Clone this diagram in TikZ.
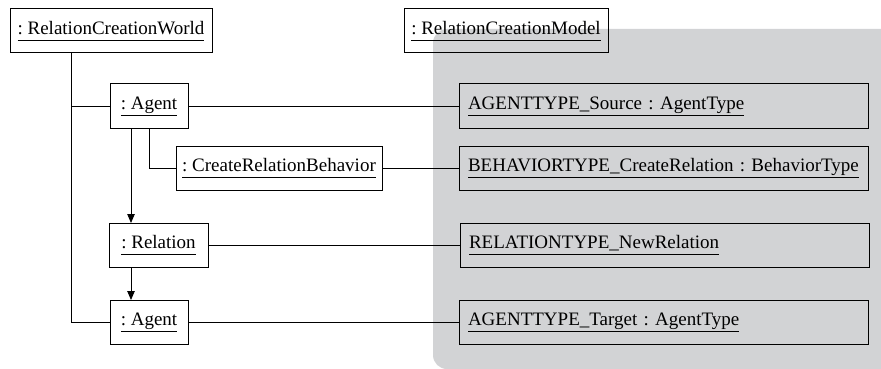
\documentclass[tikz,border=0pt]{standalone}
\usepackage{fontspec}
\setmainfont{Liberation Serif}
\usetikzlibrary{positioning,arrows.meta}

\definecolor{modelgray}{RGB}{210,211,213}
\newcommand{\objname}[1]{\underline{#1\vphantom{gy}}}
\frenchspacing

\begin{document}
\begin{tikzpicture}[%
    x=1pt,
    y=1pt,
    >={Triangle[length=9pt,width=7.5pt]},
    line width=0.8pt,
    obj/.style={%
      draw,
      line width=1pt,
      outer sep=0pt,
      minimum height=44pt,
      inner xsep=6pt,
      font=\fontsize{19}{22}\selectfont
    },
    inst/.style={%
      obj,
      text width=391pt,
      inner xsep=9pt,
      align=left
    }
  ]
    \useasboundingbox (0,0) rectangle (881,-369);
    % model background
    \fill[modelgray, rounded corners=14pt] (433,-29) rectangle (900,-369);

    \node[obj, minimum width=202pt, anchor=north west] (world) at (10,-9) {\objname{: RelationCreationWorld}};
    \node[obj, minimum width=204pt] (model) [right=192pt of world]   {\objname{: RelationCreationModel}};
    \node[obj, minimum width=78pt] (agent1) [below right=31pt and 100pt of world.south west] {\objname{: Agent}};
    \node[obj, minimum width=206pt] (crb) [below right=18pt and 66pt of agent1.south west]   {\objname{: CreateRelationBehavior}};
    \node[obj, minimum width=99pt] (rel) [below right=33pt and -1pt of agent1.south west |- crb.south] {\objname{: Relation}};
    \node[obj, minimum width=78pt] (agent2) [below right=33pt and 1pt of rel.south west]   {\objname{: Agent}};

    \node[inst] (source) [right=271pt of agent1]                  {\objname{AGENTTYPE\_Source : AgentType}};
    \node[inst] (behavior) [right=77pt of crb]                    {\objname{BEHAVIORTYPE\_CreateRelation : BehaviorType}};
    \node[inst] (reltype) [right=252pt of rel]                    {\objname{RELATIONTYPE\_NewRelation}};
    \node[inst] (target) [right=271pt of agent2]                  {\objname{AGENTTYPE\_Target : AgentType}};

    \coordinate[right=61pt of world.south west] (trunk);
    \coordinate[right=21pt of agent1.south west] (flow);

    \draw (trunk) |- (agent1);
    \draw (trunk) |- (agent2);
    \draw (agent1.south) |- (crb);
    \draw[->] (flow) -- (flow |- rel.north);
    \draw[->] (flow |- rel.south) -- (flow |- agent2.north);

    \path (agent1) edge (source)
          (crb)    edge (behavior)
          (rel)    edge (reltype)
          (agent2) edge (target);
  \end{tikzpicture}
\end{document}
